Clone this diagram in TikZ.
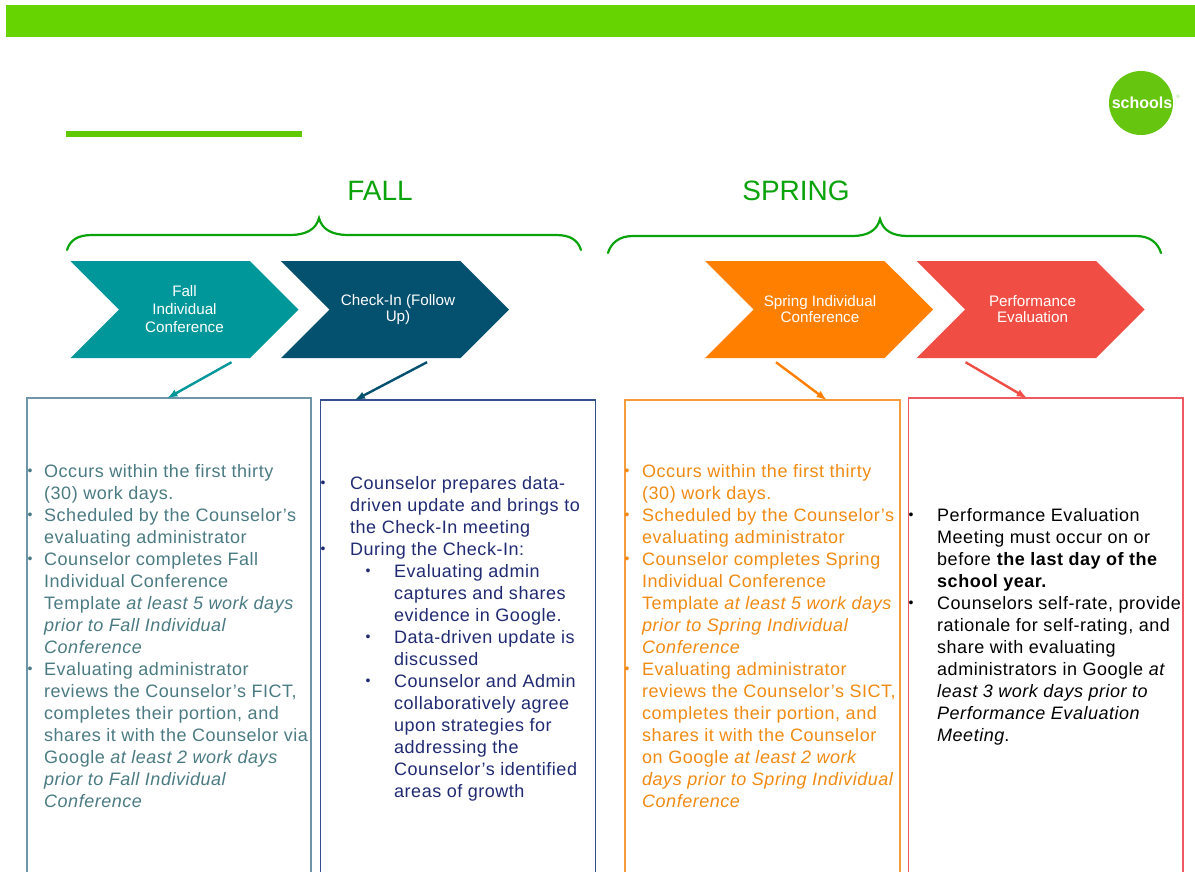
\documentclass[tikz,border=0pt]{standalone}
\usepackage{fontspec}
\setmainfont{Liberation Sans}
\usetikzlibrary{shapes.symbols}
\definecolor{barGreen}{HTML}{66D400}
\definecolor{logoGreen}{HTML}{66C60F}
\definecolor{headGreen}{HTML}{0BA30B}
\definecolor{fallTeal}{HTML}{00979A}
\definecolor{checkNavy}{HTML}{04506F}
\definecolor{springOrange}{HTML}{FF8000}
\definecolor{perfRed}{HTML}{F04E45}
\definecolor{fallText}{HTML}{4A7A82}
\definecolor{checkText}{HTML}{1F2A72}
\definecolor{springText}{HTML}{F08A12}
\definecolor{fallEdge}{HTML}{6F95A8}
\definecolor{checkEdge}{HTML}{34508F}
\definecolor{springEdge}{HTML}{F59C3C}
\definecolor{perfEdge}{HTML}{EE5A60}
\tikzset{
  chevron/.style={shape=signal, signal from=west, signal to=east, signal pointer angle=90,
    minimum width=228pt, minimum height=97pt, inner sep=0pt, text=white, align=center},
  chevtext/.style={font=\fontsize{15.2}{#1}\selectfont},
  listbox/.style={draw=#1, line width=1.5pt, anchor=north west, inner sep=0pt, outer sep=0pt},
  itemtext/.style={anchor=north west, inner sep=0pt, yshift=9.6pt, align=left,
    text=#1, font=\fontsize{18}{22}\selectfont\addfontfeatures{LetterSpace=2.9}},
  bulletmark/.style={inner sep=0pt, yshift=-1pt, text=#1, font=\fontsize{14}{14}\selectfont},
  season/.style={text=headGreen, font=\fontsize{28}{28}\selectfont},
  bracket/.style={draw=headGreen, line width=2.2pt, line cap=round}
}
\begin{document}
\begin{tikzpicture}[x=1pt,y=-1pt,>=latex]
  \clip (0,0) rectangle (1195,871);
  % Header
  \fill[barGreen] (6,5) rectangle (1195,37);
  \fill[barGreen!95!black] (66,131) rectangle (302,137);
  \node[circle, fill=logoGreen, minimum size=64pt, inner sep=0pt] (logo) at (1141,103) {};
  \node[text=white, font=\fontsize{16}{16}\selectfont\bfseries, inner sep=0pt] (logotext) at (1142,103) {schools};
  \node[text=logoGreen!60, font=\fontsize{5}{5}\selectfont, inner sep=0pt] (logomark) at (1178,97) {®};

  % Seasons
  \node[season] (fall) at (380,191) {FALL};
  \node[season] (spring) at (796,191) {SPRING};
  \draw[bracket] (67,250) .. controls (70,240) and (78,235) .. (92,235) -- (290,235)
    .. controls (305,235) and (316,230) .. (319,218) .. controls (322,230) and (333,235) .. (348,235)
    -- (556,235) .. controls (570,235) and (578,240) .. (581,250);
  \draw[bracket] (608,253) .. controls (611,243) and (619,236) .. (633,236) -- (852,236)
    .. controls (867,236) and (877,231) .. (880,219) .. controls (883,231) and (893,236) .. (908,236)
    -- (1136,236) .. controls (1150,236) and (1158,243) .. (1161,253);

  % Chevrons
  \node[chevron, fill=fallTeal, chevtext=18] (fallchev) at (184.5,309.5) {Fall\\Individual\\Conference};
  \node[chevron, fill=checkNavy, chevtext=16] (checkchev) at (395,309.5) {\hspace{6pt}Check-In (Follow\\\hspace{6pt}Up)};
  \node[chevron, fill=springOrange, chevtext=16] (springchev) at (819,309.5) {\hspace{2pt}Spring Individual\\\hspace{2pt}Conference};
  \node[chevron, fill=perfRed, chevtext=16] (perfchev) at (1030.5,309.5) {\hspace{4pt}Performance\\\hspace{4pt}Evaluation};

  % Boxes
  \node[listbox=fallEdge, minimum width=284pt, minimum height=500pt] (fallbox) at (27,398) {};
  \node[listbox=checkEdge, minimum width=275pt, minimum height=500pt] (checkbox) at (320.5,400) {};
  \node[listbox=springEdge, minimum width=275pt, minimum height=500pt] (springbox) at (625,400) {};
  \node[listbox=perfEdge, minimum width=274.5pt, minimum height=500pt] (perfbox) at (908.5,398) {};

  % Arrows
  \draw[->, fallTeal, line width=2.4pt] ([xshift=47pt,yshift=-4pt]fallchev.south) -- ([xshift=-1.5pt]fallbox.north);
  \draw[->, checkNavy, line width=2.4pt] ([xshift=32pt,yshift=-4pt]checkchev.south) -- ([xshift=-103pt]checkbox.north);
  \draw[->, springOrange, line width=2.4pt] ([xshift=-43pt,yshift=-4pt]springchev.south) -- ([xshift=64pt]springbox.north);
  \draw[->, perfRed, line width=2.4pt] ([xshift=-65pt,yshift=-4pt]perfchev.south) -- ([xshift=-19pt]perfbox.north);

  % Fall items
  \foreach \y/\txt in {471/{Occurs within the first thirty\\(30) work days.},
      515/{Scheduled by the Counselor's\\evaluating administrator},
      559/{Counselor completes Fall\\Individual Conference\\Template \textit{at least 5 work days}\\\textit{prior to Fall Individual}\\\textit{Conference}},
      669/{Evaluating administrator\\reviews the Counselor's FICT,\\completes their portion, and\\shares it with the Counselor via\\Google \textit{at least 2 work days}\\\textit{prior to Fall Individual}\\\textit{Conference}}}{
    \node[itemtext=fallText] (fallitem\y) at (44,\y) {\strut\txt};
    \node[bulletmark=fallText] (fallmark\y) at (30,\y) {\textbullet};
  }

  % Check-In items
  \foreach \y/\txt in {483/{Counselor prepares data-\\driven update and brings to\\the Check-In meeting},
      549/{During the Check-In:}}{
    \node[itemtext=checkText] (checkitem\y) at (350,\y) {\strut\txt};
    \node[bulletmark=checkText] (checkmark\y) at (323,\y) {\textbullet};
  }
  \foreach \y/\txt in {571/{Evaluating admin\\captures and shares\\evidence in Google.},
      637/{Data-driven update is\\discussed},
      681/{Counselor and Admin\\collaboratively agree\\upon strategies for\\addressing the\\Counselor's identified\\areas of growth}}{
    \node[itemtext=checkText] (checksub\y) at (394,\y) {\strut\txt};
    \node[bulletmark=checkText] (checksubmark\y) at (368,\y) {\textbullet};
  }

  % Spring items
  \foreach \y/\txt in {471/{Occurs within the first thirty\\(30) work days.},
      515/{Scheduled by the Counselor's\\evaluating administrator},
      559/{Counselor completes Spring\\Individual Conference\\Template \textit{at least 5 work days}\\\textit{prior to Spring Individual}\\\textit{Conference}},
      669/{Evaluating administrator\\reviews the Counselor's SICT,\\completes their portion, and\\shares it with the Counselor\\on Google \textit{at least 2 work}\\\textit{days prior to Spring Individual}\\\textit{Conference}}}{
    \node[itemtext=springText] (springitem\y) at (642,\y) {\strut\txt};
    \node[bulletmark=springText] (springmark\y) at (627,\y) {\textbullet};
  }

  % Performance items
  \foreach \y/\txt in {515/{Performance Evaluation\\Meeting must occur on or\\before \textbf{the last day of the}\\\textbf{school year.}},
      603/{Counselors self-rate, provide\\rationale for self-rating, and\\share with evaluating\\administrators in Google \textit{at}\\\textit{least 3 work days prior to}\\\textit{Performance Evaluation}\\\textit{Meeting}.}}{
    \node[itemtext=black] (perfitem\y) at (937,\y) {\strut\txt};
    \node[bulletmark=black] (perfmark\y) at (911,\y) {\textbullet};
  }
\end{tikzpicture}
\end{document}
